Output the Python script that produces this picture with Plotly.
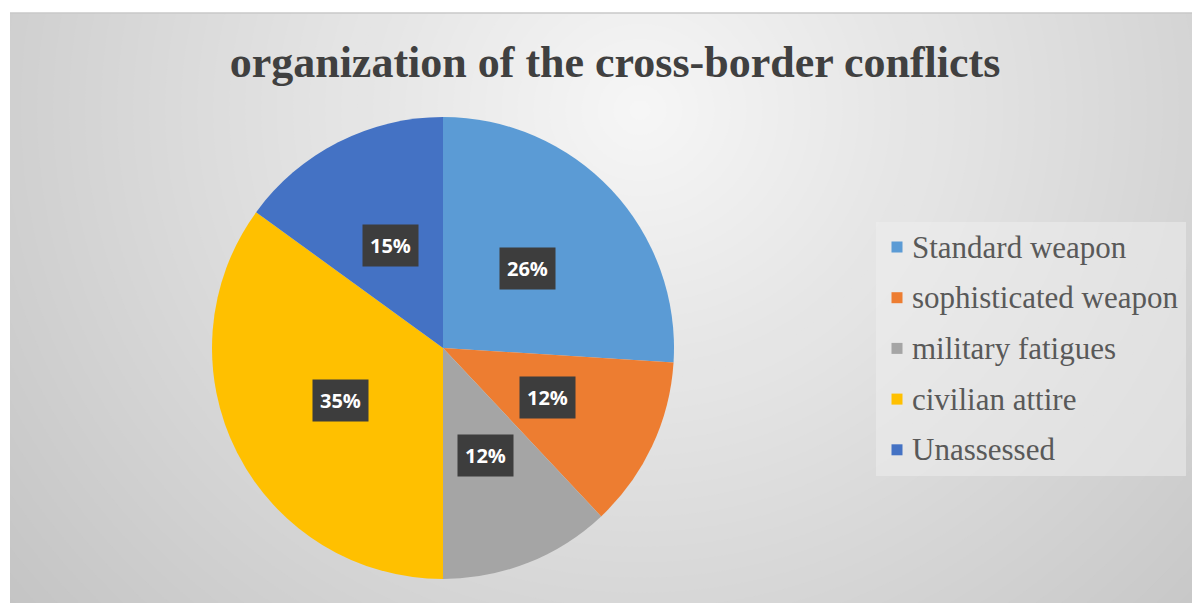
import numpy as np
import plotly.graph_objects as go

# Pie data
labels = ["Standard weapon", "sophisticated weapon", "military fatigues", "civilian attire", "Unassessed"]
shares = [26, 12, 12, 35, 15]
colors = ["#5B9BD5", "#ED7D31", "#A5A5A5", "#FFC000", "#4472C4"]
title_text = "organization of the cross-border conflicts"

W, H = 1192, 603
cx, cy, R = 443, 348, 231          # pie centre / radius in pixels
frame_x0, frame_y0 = 10, 13        # top-left corner of the chart frame


def px_x(x):
    return x / W


def px_y(y):
    return 1 - y / H


fig = go.Figure(
    go.Pie(
        labels=labels,
        values=shares,
        sort=False,
        direction="clockwise",
        rotation=0,
        marker=dict(colors=colors, line=dict(width=0)),
        textinfo="none",
        hoverinfo="label+percent",
        showlegend=False,
        domain=dict(x=[px_x(cx - R), px_x(cx + R)], y=[px_y(cy + R), px_y(cy - R)]),
    )
)

# Radial grey backdrop built from concentric ellipses
shapes = []
gx, gy = 640, 110
n_rings = 60
for i in range(n_rings):
    t = i / (n_rings - 1)
    rad = 900 * (1 - t) + 10
    v = int(round(247 - 52 * min(rad / 800, 1.1)))
    col = f"rgb({v},{v},{v})"
    shapes.append(dict(
        type="circle", xref="paper", yref="paper", layer="below",
        x0=px_x(gx - rad * 1.05), x1=px_x(gx + rad * 1.05),
        y0=px_y(gy + rad), y1=px_y(gy - rad),
        fillcolor=col, line=dict(width=0),
    ))
# white margins outside the frame
shapes.append(dict(type="rect", xref="paper", yref="paper", layer="below",
                   x0=0, x1=px_x(frame_x0), y0=0, y1=1,
                   fillcolor="white", line=dict(width=0)))
shapes.append(dict(type="rect", xref="paper", yref="paper", layer="below",
                   x0=0, x1=1, y0=px_y(frame_y0), y1=1,
                   fillcolor="white", line=dict(width=0)))
shapes.append(dict(type="line", xref="paper", yref="paper", layer="below",
                   x0=px_x(frame_x0), x1=1, y0=px_y(frame_y0), y1=px_y(frame_y0),
                   line=dict(color="#c8c8c8", width=1.5)))

# Legend panel
leg_x0, leg_y0, leg_x1, leg_y1 = 876, 222, 1186, 476
shapes.append(dict(type="rect", xref="paper", yref="paper", layer="below",
                   x0=px_x(leg_x0), x1=px_x(leg_x1), y0=px_y(leg_y1), y1=px_y(leg_y0),
                   fillcolor="rgba(240,240,240,0.5)", line=dict(width=0)))

annotations = []

# Legend rows: colour square + label
row0, row_gap, sq = 247, 50.7, 11
sq_cx, text_x = 897, 910
for i, (lab, col) in enumerate(zip(labels, colors)):
    yc = row0 + i * row_gap
    shapes.append(dict(type="rect", xref="paper", yref="paper", layer="above",
                       x0=px_x(sq_cx - sq / 2), x1=px_x(sq_cx + sq / 2),
                       y0=px_y(yc + sq / 2), y1=px_y(yc - sq / 2),
                       fillcolor=col, line=dict(width=0)))
    annotations.append(dict(
        x=px_x(text_x), y=px_y(yc), xref="paper", yref="paper",
        xanchor="left", yanchor="middle", text=lab, showarrow=False,
        font=dict(family="Liberation Serif", size=31, color="#595959"),
    ))

# Percentage labels in dark boxes, placed at the middle of each slice
total = sum(shares)
cum = 0
for s in shares:
    mid = (cum + s / 2) / total * 2 * np.pi
    cum += s
    rr = 0.5 * R
    lx = cx + rr * np.sin(mid)
    ly = cy - rr * np.cos(mid)
    annotations.append(dict(
        x=px_x(lx), y=px_y(ly), xref="paper", yref="paper",
        xanchor="center", yanchor="middle",
        text=f"<b>{round(s / total * 100)}%</b>", showarrow=False,
        font=dict(family="Open Sans", size=20, color="white"),
        bgcolor="#3d3d3d", borderpad=7,
    ))

fig.update_layout(
    width=W, height=H,
    margin=dict(l=0, r=0, t=0, b=0),
    paper_bgcolor="white",
    plot_bgcolor="rgba(0,0,0,0)",
    shapes=shapes,
    annotations=annotations,
    showlegend=False,
    title=dict(
        text=f"<b>{title_text}</b>",
        x=px_x(615), y=px_y(62), xref="paper", yref="container",
        xanchor="center", yanchor="middle",
        font=dict(family="Liberation Serif", size=44, color="#404040"),
    ),
)

fig.write_html("out.html")
